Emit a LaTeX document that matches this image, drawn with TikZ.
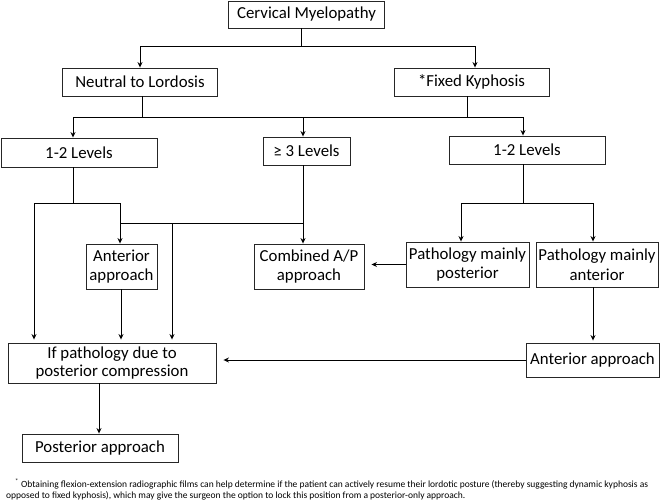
\documentclass[tikz,border=0pt]{standalone}
\usepackage{fontspec}
\setmainfont{Carlito}
\usetikzlibrary{arrows.meta}
\begin{document}
\begin{tikzpicture}[x=1pt,y=-1pt,
  box/.style={draw=black!85, line width=0.9pt, inner sep=0pt, align=center,
    font=\fontsize{16.8}{19.5}\selectfont},
  conn/.style={line width=1pt},
  arr/.style={conn, -{Stealth[length=5.5pt,width=5pt]}},
  foot/.style={anchor=base west, inner sep=0pt, font=\fontsize{9.5}{11}\selectfont}]
\useasboundingbox (0,0) rectangle (660,500);
% boxes
\node[box, minimum width=156pt, minimum height=27pt] (cm)   at (306.5,14.5) {Cervical Myelopathy};
\node[box, minimum width=155pt, minimum height=28pt] (ntl)  at (140,82)     {Neutral to Lordosis};
\node[box, minimum width=155pt, minimum height=28pt] (fk)   at (471.5,82)   {*Fixed Kyphosis};
\node[box, minimum width=156pt, minimum height=29pt] (l12a) at (79,152.5)   {1-2 Levels};
\node[box, minimum width=87pt,  minimum height=28pt] (l3)   at (306.5,151)  {≥ 3 Levels};
\node[box, minimum width=156pt, minimum height=28pt] (l12b) at (527,150)    {1-2 Levels};
\node[box, minimum width=71pt,  minimum height=45pt] (ant1) at (121.5,266.5) {Anterior\\approach};
\node[box, minimum width=110pt, minimum height=45pt] (comb) at (309,266.5)  {Combined A/P\\approach};
\node[box, minimum width=123pt, minimum height=45pt] (pmp)  at (467.5,264.5) {Pathology mainly\\posterior};
\node[box, minimum width=122pt, minimum height=45pt] (pma)  at (597,264.5)  {Pathology mainly\\anterior};
\node[box, minimum width=208pt, minimum height=40pt, font=\fontsize{16.8}{18}\selectfont] (ifp)  at (112,363) {If pathology due to\\posterior compression};
\node[box, minimum width=133pt, minimum height=34pt] (ant2) at (592.5,360)  {Anterior approach};
\node[box, minimum width=156pt, minimum height=28pt] (post) at (100,448)    {Posterior approach};
% junction levels
\coordinate (h1) at (0,47);
\coordinate (h2) at (0,117);
\coordinate (h3) at (0,203);
\coordinate (h4) at (0,223);
\coordinate (a35) at (34,203);
\coordinate (v172) at (172,223);
% top level
\draw[conn] ([xshift=-5.5pt]cm.south) -- ([xshift=-5.5pt]cm.south |- h1);
\draw[arr] ([xshift=-5.5pt]cm.south |- h1) -| (ntl.north);
\draw[arr] ([xshift=-5.5pt]cm.south |- h1) -| ([xshift=3.5pt]fk.north);
% second level
\draw[conn] ([xshift=2pt]ntl.south) -- ([xshift=2pt]ntl.south |- h2);
\draw[conn] ([xshift=-4.5pt]fk.south) -- ([xshift=-4.5pt]fk.south |- h2);
\draw[conn] ([xshift=-6pt]l12a.north |- h2) -- ([xshift=-4pt]l12b.north |- h2);
\draw[arr] ([xshift=-6pt]l12a.north |- h2) -- ([xshift=-6pt]l12a.north);
\draw[arr] ([xshift=-3.5pt]l3.north |- h2) -- ([xshift=-3.5pt]l3.north);
\draw[arr] ([xshift=-4pt]l12b.north |- h2) -- ([xshift=-4pt]l12b.north);
% left branch
\draw[conn] ([xshift=-6pt]l12a.south) -- ([xshift=-6pt]l12a.south |- h3);
\draw[conn] (a35) -- ([xshift=-1.5pt]ant1.north |- h3);
\draw[arr] ([xshift=-1.5pt]ant1.north |- h3) -- ([xshift=-1.5pt]ant1.north);
\draw[arr, shorten >=3pt] (a35) -- (a35 |- ifp.north);
\draw[conn] ([xshift=-1.5pt]ant1.north |- h4) -- ([xshift=-3.5pt]l3.south |- h4);
\draw[arr] ([xshift=-3.5pt]l3.south) -- ([xshift=-3.5pt]l3.south |- comb.north);
\draw[arr, shorten >=3pt] (v172) -- (v172 |- ifp.north);
\draw[arr, shorten >=3pt] ([xshift=-0.5pt]ant1.south) -- ([xshift=-0.5pt]ant1.south |- ifp.north);
% right branch
\draw[conn] ([xshift=-4pt]l12b.south) -- ([xshift=-4pt]l12b.south |- h3);
\draw[arr] ([xshift=-4pt]l12b.south |- h3) -| ([xshift=-6.5pt]pmp.north);
\draw[arr] ([xshift=-4pt]l12b.south |- h3) -| ([xshift=-4pt]pma.north);
\draw[arr, shorten >=7pt] (pmp.west) -- (pmp.west -| comb.east);
\draw[arr, shorten >=2pt] ([xshift=-4pt]pma.south) -- ([xshift=-4pt]pma.south |- ant2.north);
\draw[arr, shorten >=7pt] (ant2.west) -- (ant2.west -| ifp.east);
\draw[arr] ([xshift=-13pt]ifp.south) -- ([xshift=-13pt]ifp.south |- post.north);
% footnote
\node[foot] (fn1) at (15,487) {\textsuperscript{*} Obtaining flexion-extension radiographic films can help determine if the patient can actively resume their lordotic posture (thereby suggesting dynamic kyphosis as};
\node[foot] (fn2) at (6,498) {opposed to fixed kyphosis), which may give the surgeon the option to lock this position from a posterior-only approach.};
\end{tikzpicture}
\end{document}
